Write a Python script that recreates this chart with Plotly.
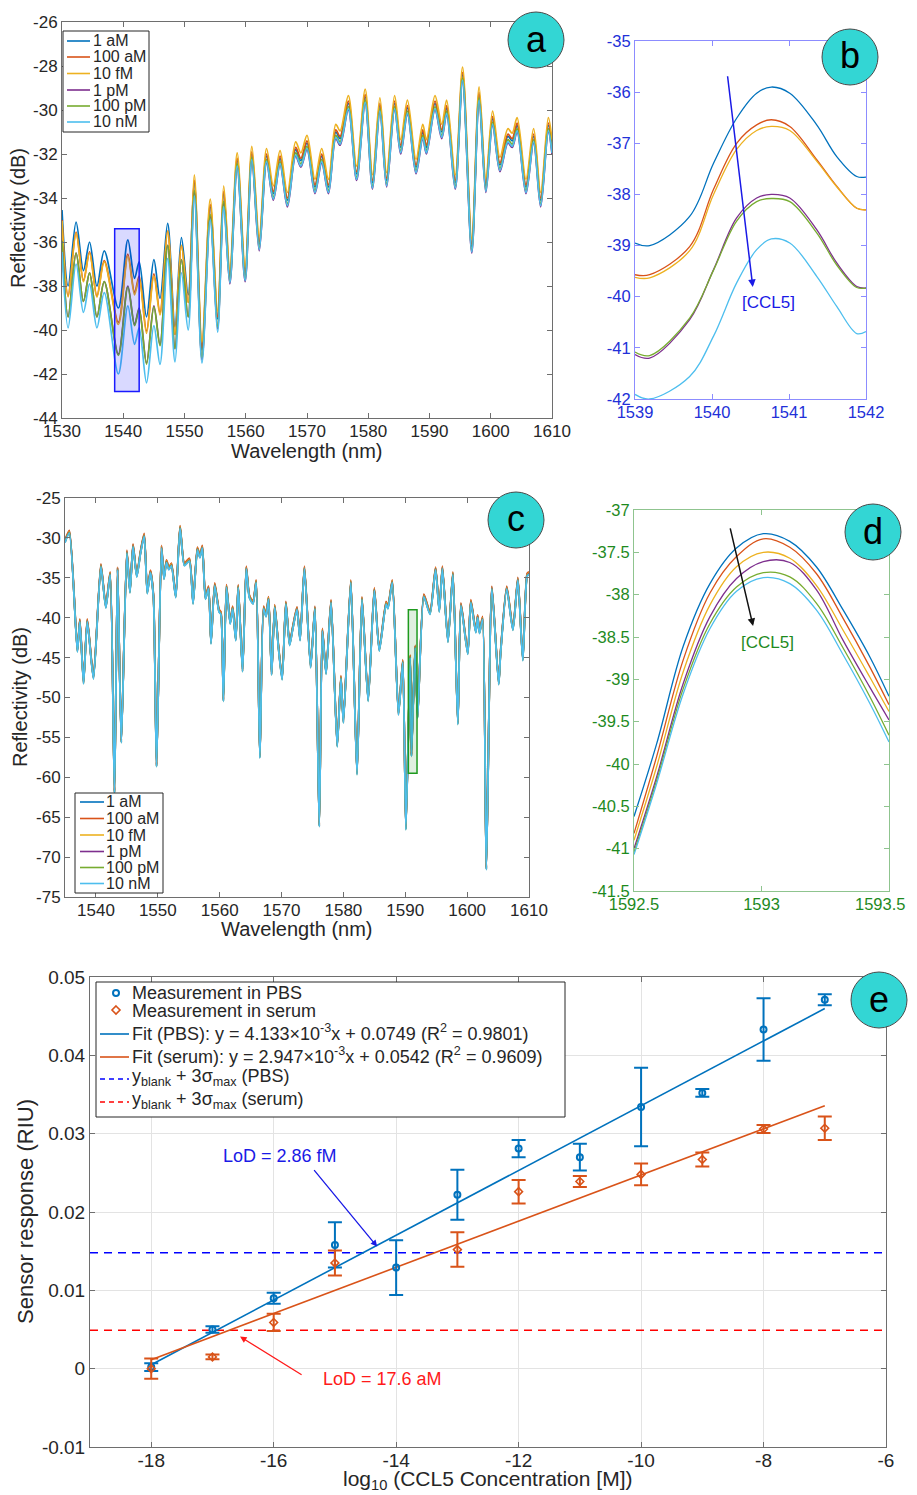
import numpy as np
import plotly.graph_objects as go

# reference canvas size, and the page offset (body margin) of the browser
RW, RH = 917, 1495
OX, OY = 8, 8
W, H = RW - OX, RH - OY
FONT = "Liberation Sans, Arial, Helvetica, sans-serif"

series = ["1 aM", "100 aM", "10 fM", "1 pM", "100 pM", "10 nM"]
colors = ["#0072BD", "#D95319", "#EDB120", "#7E2F8E", "#77AC30", "#4DBEEE"]

# ---------------- Panel a: full spectrum (1 aM reference curve, extrema) ----------------
a_wl = [1530.0, 1531.0, 1532.3, 1533.5, 1534.5, 1535.7, 1536.9, 1539.2, 1540.75, 1541.85,
        1542.6, 1543.8, 1545.0, 1546.0, 1547.25, 1548.45, 1549.5, 1550.6, 1551.6, 1552.85,
        1554.2, 1555.4, 1556.4, 1557.4, 1558.6, 1559.9, 1561.0, 1562.2, 1563.4, 1564.5,
        1565.6, 1566.8, 1568.15, 1569.0, 1570.0, 1571.3, 1572.4, 1573.5, 1574.7, 1575.4,
        1576.75, 1578.1, 1579.5, 1580.7, 1581.9, 1583.0, 1584.3, 1585.3, 1586.4, 1587.8,
        1588.9, 1589.5, 1590.9, 1592.0, 1592.8, 1594.2, 1595.4, 1596.9, 1598.1, 1599.2,
        1600.3, 1601.5, 1602.8, 1603.5, 1604.3, 1605.75, 1607.0, 1608.15, 1609.4, 1610.0]
a_db = [-34.55, -38.0, -35.1, -37.3, -36.0, -38.0, -36.4, -39.0, -35.9, -37.65,
        -36.9, -39.4, -36.8, -38.56, -35.15, -39.85, -35.8, -38.4, -33.3, -40.9,
        -34.4, -39.5, -33.8, -37.6, -32.3, -37.5, -32.0, -36.1, -32.1, -33.8,
        -32.2, -34.1, -31.8, -32.3, -31.5, -33.5, -32.1, -33.5, -31.0, -31.3,
        -29.7, -32.9, -29.4, -33.3, -29.8, -33.2, -29.7, -31.7, -29.9, -32.6,
        -31.0, -31.7, -29.7, -31.0, -29.9, -33.3, -28.4, -36.2, -29.3, -33.45,
        -30.4, -32.5, -31.2, -31.4, -30.7, -33.5, -31.2, -34.1, -30.7, -31.7]
# wavelength regions where the curves keep a similar separation
a_zone_edges = [1537.5, 1546.5, 1551.0, 1557.0]
a_offsets = {
    "1 aM":   [0.0, 0.0, 0.0, 0.0, 0.0],
    "100 aM": [-0.45, -0.65, -0.35, 0.1, 0.1],
    "10 fM":  [-0.5, -0.75, -0.35, 0.35, 0.35],
    "1 pM":   [-1.4, -2.1, -1.0, -0.45, -0.3],
    "100 pM": [-1.4, -2.15, -1.0, -0.35, -0.15],
    "10 nM":  [-1.9, -3.0, -1.6, -0.6, -0.25],
}
a_box = [1538.6, 1542.6, -42.8, -35.4]

# ---------------- Panel b: zoom 1539-1542 nm ----------------
b_wl = [1539.0, 1539.19, 1539.71, 1540.02, 1540.32, 1540.58, 1540.77, 1541.01, 1541.36, 1541.62, 1541.88, 1542.0]
b_db = {
    "1 aM":   [-38.95, -39.0, -38.43, -37.39, -36.51, -36.02, -35.90, -36.02, -36.64, -37.26, -37.65, -37.66],
    "100 aM": [-39.57, -39.57, -39.02, -37.90, -37.00, -36.64, -36.54, -36.67, -37.32, -37.84, -38.27, -38.30],
    "10 fM":  [-39.62, -39.63, -39.10, -38.00, -37.12, -36.75, -36.67, -36.75, -37.35, -37.85, -38.27, -38.30],
    "1 pM":   [-41.13, -41.20, -40.45, -39.47, -38.46, -38.07, -38.00, -38.07, -38.69, -39.34, -39.80, -39.83],
    "100 pM": [-41.08, -41.15, -40.42, -39.48, -38.52, -38.14, -38.08, -38.14, -38.75, -39.38, -39.82, -39.83],
    "10 nM":  [-41.91, -42.0, -41.56, -40.77, -39.73, -39.08, -38.87, -38.95, -39.60, -40.19, -40.72, -40.68],
}

# ---------------- Panel c: second sensor spectrum ----------------
c_wl = [1535.0, 1535.7, 1537.0, 1537.4, 1538.0, 1538.6, 1539.6, 1540.8, 1541.6, 1542.3,
        1543.0, 1543.5, 1544.1, 1545.0, 1545.5, 1546.0, 1546.6, 1547.2, 1547.8, 1548.3,
        1548.8, 1549.3, 1549.8, 1550.6, 1551.0, 1551.4, 1551.8, 1552.2, 1552.9, 1553.6,
        1554.3, 1555.1, 1555.7, 1556.4, 1556.8, 1557.2, 1557.7, 1558.2, 1558.6, 1559.2,
        1559.9, 1560.2, 1560.6, 1561.1, 1561.7, 1562.1, 1562.6, 1563.0, 1563.7, 1564.3,
        1564.8, 1565.4, 1565.9, 1566.5, 1567.1, 1567.5, 1567.9, 1568.4, 1568.9, 1569.5,
        1570.1, 1570.7, 1571.3, 1571.8, 1572.5, 1573.0, 1573.7, 1574.7, 1575.4, 1576.1,
        1576.6, 1577.2, 1578.0, 1579.0, 1579.6, 1580.0, 1581.2, 1582.2, 1583.0, 1584.0,
        1585.0, 1585.8, 1586.9, 1587.2, 1587.9, 1588.9, 1589.6, 1590.1, 1590.8, 1591.0,
        1591.6, 1592.0, 1593.0, 1594.0, 1594.9, 1595.5, 1596.0, 1596.9, 1597.7, 1598.5,
        1599.0, 1600.1, 1600.6, 1601.4, 1601.7, 1602.0, 1602.5, 1603.1, 1604.0, 1605.1,
        1605.4, 1606.4, 1607.4, 1608.2, 1609.0, 1609.7, 1610.0]
c_db = [-30.6, -29.4, -44.3, -40.5, -48.3, -40.5, -47.7, -33.6, -38.8, -34.6,
        -62.0, -34.0, -55.7, -31.9, -36.9, -31.1, -34.9, -32.0, -29.8, -37.0,
        -34.4, -37.5, -58.7, -31.3, -35.2, -33.1, -34.0, -33.5, -37.5, -28.8,
        -33.5, -32.9, -38.3, -31.5, -32.5, -31.3, -37.7, -36.4, -43.3, -36.0,
        -39.3, -39.6, -50.5, -36.2, -40.8, -38.9, -42.9, -36.2, -46.8, -33.9,
        -37.5, -38.3, -35.6, -57.6, -38.9, -39.9, -37.7, -47.2, -38.7, -43.8,
        -47.8, -38.3, -43.5, -41.5, -39.0, -42.9, -33.9, -46.3, -38.9, -66.2,
        -41.7, -47.1, -38.1, -56.2, -47.6, -53.2, -35.6, -59.7, -37.7, -50.5,
        -36.6, -44.2, -38.3, -38.9, -35.6, -52.2, -45.6, -66.6, -45.0, -57.4,
        -43.8, -52.6, -37.4, -39.6, -34.0, -39.3, -33.9, -43.1, -34.6, -53.4,
        -38.5, -44.6, -38.1, -41.9, -40.0, -42.0, -40.2, -71.6, -36.4, -48.4,
        -44.6, -36.4, -41.6, -35.3, -45.4, -34.8, -34.6]
c_offsets = {"1 aM": 0.25, "100 aM": 0.35, "10 fM": 0.2, "1 pM": 0.1, "100 pM": 0.05, "10 nM": 0.0}
c_box = [1590.5, 1591.9, -59.5, -39.0]

# ---------------- Panel d: zoom 1592.5-1593.5 nm ----------------
d_wl = [1592.5, 1592.589, 1592.693, 1592.798, 1592.902, 1593.007, 1593.111, 1593.215, 1593.320, 1593.424, 1593.5]
d_db = {
    "1 aM":   [-40.62, -39.76, -38.61, -37.87, -37.45, -37.28, -37.37, -37.67, -38.18, -38.73, -39.20],
    "100 aM": [-40.82, -39.91, -38.77, -37.98, -37.55, -37.34, -37.44, -37.75, -38.28, -38.85, -39.30],
    "10 fM":  [-40.90, -40.03, -38.91, -38.12, -37.67, -37.50, -37.57, -37.89, -38.42, -38.97, -39.38],
    "1 pM":   [-41.00, -40.15, -39.05, -38.26, -37.81, -37.61, -37.62, -37.94, -38.54, -39.09, -39.48],
    "100 pM": [-41.04, -40.19, -39.11, -38.34, -37.91, -37.74, -37.79, -38.10, -38.63, -39.20, -39.66],
    "10 nM":  [-41.07, -40.23, -39.17, -38.40, -37.96, -37.80, -37.87, -38.18, -38.71, -39.28, -39.74],
}

# ---------------- Panel e: calibration ----------------
pbs_x = [-18, -17, -16, -15, -14, -13, -12, -11, -10, -9, -8, -7]
pbs_y = [0.0002, 0.0050, 0.0090, 0.0158, 0.0129, 0.0222, 0.0281, 0.0270, 0.0334, 0.0352, 0.0433, 0.0471]
pbs_err = [0.0005, 0.0004, 0.0007, 0.0029, 0.0035, 0.0032, 0.0011, 0.0017, 0.0050, 0.0005, 0.0040, 0.0007]
serum_x = [-18, -17, -16, -15, -13, -12, -11, -10, -9, -8, -7]
serum_y = [0.0000, 0.0015, 0.0059, 0.0135, 0.0152, 0.0226, 0.0239, 0.0248, 0.0267, 0.0306, 0.0307]
serum_err = [0.0013, 0.0003, 0.0011, 0.0016, 0.0022, 0.0015, 0.0007, 0.0014, 0.0009, 0.0005, 0.0015]
fit_x = [-18, -7]
fit_pbs_y = [0.00050, 0.04597]
fit_serum_y = [0.00115, 0.03357]
thr_x = [-19, -6]
thr_pbs = 0.0148
thr_serum = 0.0049

e_labels = ["Measurement in PBS", "Measurement in serum",
            "Fit (PBS): y = 4.133×10<sup>-3</sup>x + 0.0749 (R<sup>2</sup> = 0.9801)",
            "Fit (serum): y = 2.947×10<sup>-3</sup>x + 0.0542 (R<sup>2</sup> = 0.9609)",
            "y<sub>blank</sub> + 3σ<sub>max</sub> (PBS)",
            "y<sub>blank</sub> + 3σ<sub>max</sub> (serum)"]

fig = go.Figure()

zone_idx = np.searchsorted(a_zone_edges, a_wl)
for i, name in enumerate(series):
    vals = np.array(a_db) + np.array(a_offsets[name])[zone_idx]
    fig.add_trace(go.Scatter(x=a_wl, y=vals, mode="lines", name=name,
                             line=dict(color=colors[i], width=1.7, shape="spline", smoothing=0.9),
                             xaxis="x", yaxis="y"))
for i, name in enumerate(series):
    fig.add_trace(go.Scatter(x=b_wl, y=b_db[name], mode="lines", name=name,
                             line=dict(color=colors[i], width=1.3, shape="spline", smoothing=1.0),
                             xaxis="x2", yaxis="y2"))
for i, name in enumerate(series):
    vals = np.array(c_db) + c_offsets[name]
    fig.add_trace(go.Scatter(x=c_wl, y=vals, mode="lines", name=name,
                             line=dict(color=colors[i], width=1.8, shape="spline", smoothing=0.6),
                             xaxis="x3", yaxis="y3"))
for i, name in enumerate(series):
    fig.add_trace(go.Scatter(x=d_wl, y=d_db[name], mode="lines", name=name,
                             line=dict(color=colors[i], width=1.3, shape="spline", smoothing=1.0),
                             xaxis="x4", yaxis="y4"))

fig.add_trace(go.Scatter(x=thr_x, y=[thr_pbs, thr_pbs], mode="lines", name=e_labels[4],
                         line=dict(color="#0000FF", width=1.5, dash="8px,6px"), xaxis="x5", yaxis="y5"))
fig.add_trace(go.Scatter(x=thr_x, y=[thr_serum, thr_serum], mode="lines", name=e_labels[5],
                         line=dict(color="#FF0000", width=1.5, dash="8px,6px"), xaxis="x5", yaxis="y5"))
fig.add_trace(go.Scatter(x=fit_x, y=fit_pbs_y, mode="lines", name=e_labels[2],
                         line=dict(color="#0072BD", width=1.6), xaxis="x5", yaxis="y5"))
fig.add_trace(go.Scatter(x=fit_x, y=fit_serum_y, mode="lines", name=e_labels[3],
                         line=dict(color="#D95319", width=1.6), xaxis="x5", yaxis="y5"))
fig.add_trace(go.Scatter(x=pbs_x, y=pbs_y, mode="markers", name=e_labels[0],
                         marker=dict(symbol="circle-open", size=6, color="#0072BD", line=dict(width=2)),
                         error_y=dict(type="data", array=pbs_err, color="#0072BD", thickness=2, width=7),
                         xaxis="x5", yaxis="y5"))
fig.add_trace(go.Scatter(x=serum_x, y=serum_y, mode="markers", name=e_labels[1],
                         marker=dict(symbol="diamond-open", size=6, color="#D95319", line=dict(width=1.6)),
                         error_y=dict(type="data", array=serum_err, color="#D95319", thickness=2, width=7),
                         xaxis="x5", yaxis="y5"))


def PX(x):
    return (x - OX) / W


def PY(y):
    return 1 - (y - OY) / H


def dom_x(x0, x1):
    return [PX(x0), PX(x1)]


def dom_y(top, bottom):
    return [PY(bottom), PY(top)]


def axis(domain, rng, vals, texts, anchor, line_c="#6e6e6e", text_c="#262626", size=17, grid=False, standoff=0):
    return dict(domain=domain, range=rng, tickvals=vals, ticktext=texts, anchor=anchor,
                showline=True, linecolor=line_c, linewidth=1, mirror="ticks",
                ticks="inside", ticklen=5, tickcolor=line_c, tickwidth=1, automargin=False,
                ticklabelstandoff=standoff, ticklabeloverflow="allow",
                tickfont=dict(family=FONT, size=size, color=text_c),
                showgrid=grid, gridcolor="#e3e3e3", gridwidth=1, zeroline=False)


a_xt = list(range(1530, 1611, 10))
a_yt = list(range(-44, -25, 2))
b_xt = [1539, 1540, 1541, 1542]
b_yt = list(range(-42, -34))
c_xt = list(range(1540, 1611, 10))
c_yt = list(range(-75, -24, 5))
d_xt = [1592.5, 1593, 1593.5]
d_xlabels = ["1592.5", "1593", ""]   # last label is written as a right-aligned text (page edge)
d_last_label = "1593.5"
d_yt = [-41.5, -41, -40.5, -40, -39.5, -39, -38.5, -38, -37.5, -37]
e_xt = list(range(-18, -5, 2))
e_yt = [-0.01, 0, 0.01, 0.02, 0.03, 0.04, 0.05]

BL, BT = "#8c8cff", "#2230d8"
GL, GT = "#8fc48f", "#1e8a1e"

fig.update_layout(
    width=W, height=H, autosize=False, showlegend=False,
    margin=dict(l=0, r=0, t=0, b=0, pad=0),
    paper_bgcolor="white", plot_bgcolor="white",
    font=dict(family=FONT, color="#262626"),
    xaxis=axis(dom_x(62, 552), [1530, 1610], a_xt, [str(v) for v in a_xt], "y", standoff=-2),
    yaxis=axis(dom_y(22, 418), [-44, -26], a_yt, [str(v) for v in a_yt], "x"),
    xaxis2=axis(dom_x(635, 866), [1539, 1542], b_xt, [str(v) for v in b_xt], "y2", BL, BT, 16.5, standoff=-2),
    yaxis2=axis(dom_y(41, 399), [-42, -35], b_yt, [str(v) for v in b_yt], "x2", BL, BT, 16.5),
    xaxis3=axis(dom_x(65, 529), [1535, 1610], c_xt, [str(v) for v in c_xt], "y3", standoff=-2),
    yaxis3=axis(dom_y(498, 897), [-75, -25], c_yt, [str(v) for v in c_yt], "x3"),
    xaxis4=axis(dom_x(634, 889), [1592.5, 1593.5], d_xt, d_xlabels, "y4", GL, GT, 16.5, standoff=-2),
    yaxis4=axis(dom_y(510, 891), [-41.5, -37], d_yt, [("%g" % v) for v in d_yt], "x4", GL, GT, 16.5),
    xaxis5=axis(dom_x(90, 886), [-19, -6], e_xt, [str(v) for v in e_xt], "y5", size=19, grid=True, standoff=-4),
    yaxis5=axis(dom_y(977, 1447), [-0.01, 0.05], e_yt, ["-0.01", "0", "0.01", "0.02", "0.03", "0.04", "0.05"],
                "x5", size=19, grid=True),
)

shapes = [
    dict(type="rect", xref="x", yref="y", x0=a_box[0], x1=a_box[1], y0=a_box[2], y1=a_box[3],
         fillcolor="rgba(0,0,255,0.15)", line=dict(color="#1a1aff", width=1.5)),
    dict(type="rect", xref="x3", yref="y3", x0=c_box[0], x1=c_box[1], y0=c_box[2], y1=c_box[3],
         fillcolor="rgba(0,120,0,0.12)", line=dict(color="#1e9a1e", width=1.5)),
]
annotations = []


def box(x0, y0, x1, y1):
    shapes.append(dict(type="rect", xref="paper", yref="paper", x0=PX(x0), x1=PX(x1), y0=PY(y1), y1=PY(y0),
                       fillcolor="white", line=dict(color="#262626", width=1), layer="above"))


def seg(x0, x1, y, color, dash="solid", width=1.6):
    shapes.append(dict(type="line", xref="paper", yref="paper", x0=PX(x0), x1=PX(x1), y0=PY(y), y1=PY(y),
                       line=dict(color=color, width=width, dash=dash), layer="above"))


def label(x, y, text, size, color="#262626", anchor="left"):
    annotations.append(dict(text=text, xref="paper", yref="paper", x=PX(x), y=PY(y), showarrow=False,
                            xanchor=anchor, yanchor="middle",
                            font=dict(family=FONT, size=size, color=color)))


# legend of panel a
box(63, 31, 149, 132)
for i, (name, yy) in enumerate(zip(series, [41, 57, 73.5, 90, 106, 122])):
    seg(67, 90, yy, colors[i])
    label(91, yy, name, 16)
# legend of panel c
box(75, 793, 163, 893)
for i, (name, yy) in enumerate(zip(series, [802, 818.5, 835, 851.5, 867.5, 883.5])):
    seg(80, 104, yy, colors[i])
    label(104, yy, name, 16)
# legend of panel e
box(96, 982, 565, 1117)
shapes.append(dict(type="circle", xref="paper", yref="paper",
                   x0=PX(113), x1=PX(119), y0=PY(996), y1=PY(990),
                   line=dict(color="#0072BD", width=2), fillcolor="rgba(0,0,0,0)", layer="above"))
shapes.append(dict(type="path", xref="paper", yref="paper",
                   path="M %f %f L %f %f L %f %f L %f %f Z" % (PX(116), PY(1006), PX(120), PY(1010),
                                                               PX(116), PY(1014), PX(112), PY(1010)),
                   line=dict(color="#D95319", width=1.6), fillcolor="rgba(0,0,0,0)", layer="above"))
seg(100, 129, 1034, "#0072BD")
seg(100, 129, 1057, "#D95319")
seg(100, 129, 1079, "#0000FF", "5px,4px", 1.5)
seg(100, 129, 1102, "#FF0000", "5px,4px", 1.5)
for text, yy in zip(e_labels, [993, 1011, 1032, 1055, 1077, 1100]):
    label(130, yy, text, 18)

# last x tick label of panel d, kept inside the page
label(907, 904, d_last_label, 16.5, GT, "right")

letters = [("a", 536, 40), ("b", 850, 57), ("c", 516, 520), ("d", 873, 532), ("e", 879, 1000)]
R = 28
for lab, cx, cy in letters:
    shapes.append(dict(type="circle", xref="paper", yref="paper",
                       x0=PX(cx - R), x1=PX(cx + R), y0=PY(cy + R), y1=PY(cy - R),
                       fillcolor="#33d6d4", line=dict(color="#4a4a4a", width=1), layer="above"))
    annotations.append(dict(text=lab, xref="paper", yref="paper", x=PX(cx), y=PY(cy - 1),
                            showarrow=False, font=dict(family=FONT, size=36, color="black"),
                            xanchor="center", yanchor="middle"))


def title(text, x, y, angle=0, size=20):
    return dict(text=text, xref="paper", yref="paper", x=PX(x), y=PY(y), showarrow=False,
                textangle=angle, font=dict(family=FONT, size=size, color="#262626"),
                xanchor="center", yanchor="middle")


annotations += [
    title("Wavelength (nm)", 307, 451),
    title("Reflectivity (dB)", 18, 218, -90),
    title("Wavelength (nm)", 297, 929),
    title("Reflectivity (dB)", 20, 697, -90),
    title("log<sub>10</sub> (CCL5 Concentration [M])", 487, 1480, 0, 21),
    title("Sensor response (RIU)", 25, 1212, -90, 22),
    dict(xref="x2", yref="y2", axref="x2", ayref="y2", x=1540.53, y=-39.81, ax=1540.2, ay=-35.66,
         text="", showarrow=True, arrowhead=2, arrowsize=1, arrowwidth=1.5, arrowcolor="#1a1ae6"),
    dict(xref="x2", yref="y2", x=1540.73, y=-40.12, text="[CCL5]", showarrow=False,
         font=dict(family=FONT, size=17, color="#1a1ae6")),
    dict(xref="x4", yref="y4", axref="x4", ayref="y4", x=1592.967, y=-38.37, ax=1592.876, ay=-37.2,
         text="", showarrow=True, arrowhead=2, arrowsize=1, arrowwidth=1.5, arrowcolor="#111111"),
    dict(xref="x4", yref="y4", x=1593.025, y=-38.56, text="[CCL5]", showarrow=False,
         font=dict(family=FONT, size=17, color="#1e8a1e")),
    dict(xref="x5", yref="y5", axref="x5", ayref="y5", x=-14.31, y=0.01558, ax=-15.36, ay=0.02554,
         text="", showarrow=True, arrowhead=2, arrowsize=1, arrowwidth=1.3, arrowcolor="#1a1ae6"),
    dict(xref="x5", yref="y5", x=-15.9, y=0.0272, text="LoD = 2.86 fM", showarrow=False,
         font=dict(family=FONT, size=18, color="#1a1ae6")),
    dict(xref="x5", yref="y5", axref="x5", ayref="y5", x=-16.55, y=0.0041, ax=-15.52, ay=-0.0009,
         text="", showarrow=True, arrowhead=2, arrowsize=1, arrowwidth=1.3, arrowcolor="#ff1a1a"),
    dict(xref="x5", yref="y5", x=-14.23, y=-0.0013, text="LoD = 17.6 aM", showarrow=False,
         font=dict(family=FONT, size=18, color="#ff1a1a")),
]

fig.update_layout(shapes=shapes, annotations=annotations)
fig.write_html("out.html")
